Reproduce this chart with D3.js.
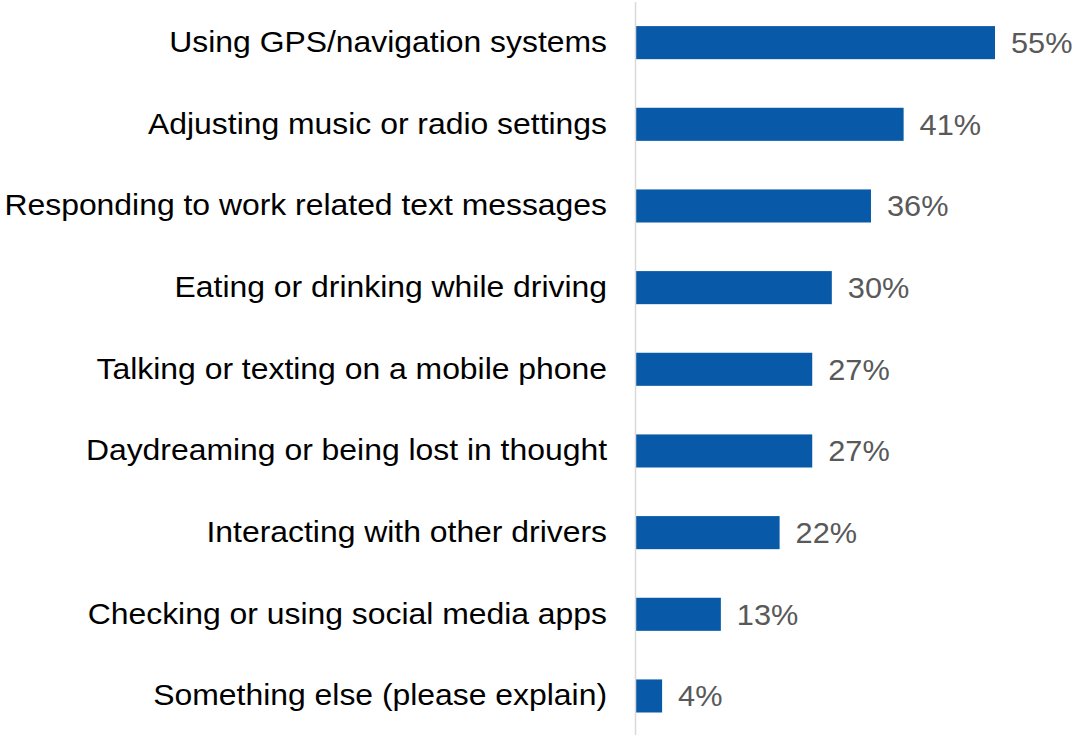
<!DOCTYPE html>
<html>
<head>
<meta charset="utf-8">
<script src="https://cdn.jsdelivr.net/npm/d3@7"></script>
<style>
  html, body { margin: 0; padding: 0; background: #fff; }
  svg { display: block; }
</style>
</head>
<body>
<svg id="chart" width="1081" height="735"></svg>
<script>
const categories = [
  "Using GPS/navigation systems",
  "Adjusting music or radio settings",
  "Responding to work related text messages",
  "Eating or drinking while driving",
  "Talking or texting on a mobile phone",
  "Daydreaming or being lost in thought",
  "Interacting with other drivers",
  "Checking or using social media apps",
  "Something else (please explain)"
];
const values = [55, 41, 36, 30, 27, 27, 22, 13, 4];

const svg = d3.select("#chart");
const W = 1081, H = 735;
const x0 = 636;
const font = "Liberation Sans, Arial, sans-serif";
const labelStretch = 1.1;
const valueStretch = 1.06;

const x = d3.scaleLinear().domain([0, 55]).range([x0, 995]);
const y = d3.scaleBand().domain(categories).range([1.6, 737]).paddingInner(0.595).paddingOuter(0.3);

svg.selectAll("rect.bar")
  .data(values)
  .join("rect")
  .attr("class", "bar")
  .attr("x", x(0))
  .attr("y", (d, i) => y(categories[i]))
  .attr("width", d => x(d) - x(0))
  .attr("height", y.bandwidth())
  .attr("fill", "#085AA8");

// vertical category axis line
svg.append("line")
  .attr("x1", x0 - 0.5).attr("x2", x0 - 0.5)
  .attr("y1", 2).attr("y2", H)
  .attr("stroke", "#d9d9d9").attr("stroke-width", 1.5);

const yAxis = d3.axisLeft(y).tickSize(0).tickPadding(29);
const g = svg.append("g").attr("transform", `translate(${x0},0)`).call(yAxis);
g.select(".domain").remove();
g.selectAll("text")
  .attr("font-family", font)
  .attr("font-size", 29)
  .attr("fill", "#000")
  .attr("x", -29 / labelStretch)
  .attr("transform", `scale(${labelStretch},1)`);

svg.selectAll("text.val")
  .data(values)
  .join("text")
  .attr("class", "val")
  .attr("transform", (d, i) =>
    `translate(${x(d) + 16},${y(categories[i]) + y.bandwidth() / 2}) scale(${valueStretch},1)`)
  .attr("dy", "0.36em")
  .attr("font-family", font)
  .attr("font-size", 29)
  .attr("fill", "#595959")
  .text(d => d + "%");
</script>
</body>
</html>
